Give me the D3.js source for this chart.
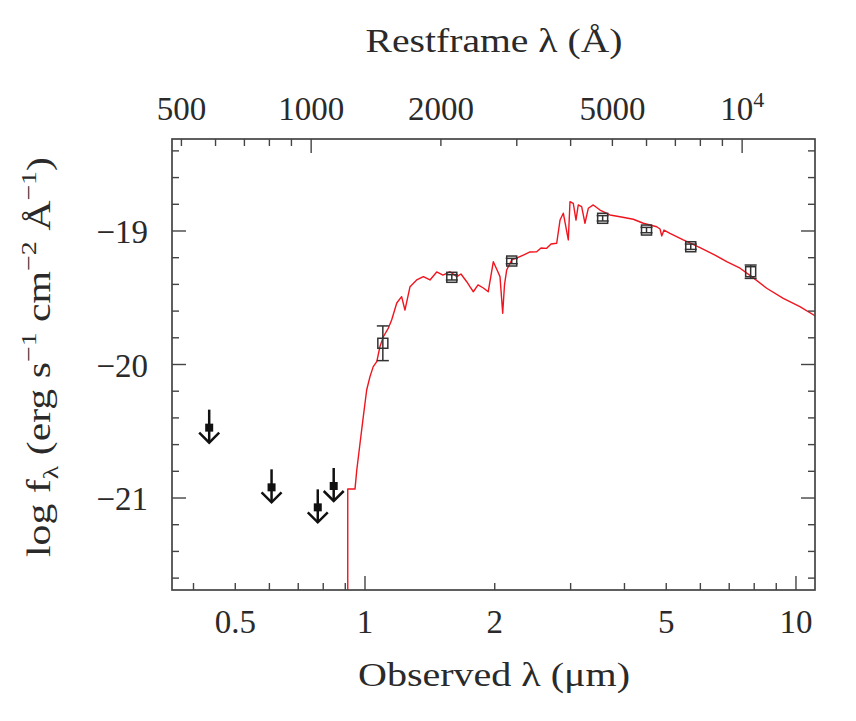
<!DOCTYPE html>
<html><head><meta charset="utf-8">
<script src="https://cdn.jsdelivr.net/npm/d3@7"></script>
<style>body{margin:0;background:#fff}svg{display:block}text{font-family:"Liberation Serif","Times New Roman",serif;fill:#2a2a2a}</style>
</head><body>
<svg id="c" width="856" height="721"></svg>
<script>
// ---- data ----
const redshift1p = 7.5; // observed micron = restframe Angstrom * 7.5 / 1e4
const xDomain = [0.3566, 11.07];
const yDomain = [-21.689, -18.311];

const bottomTicks = [0.4,0.5,0.6,0.7,0.8,0.9,1,2,3,4,5,6,7,8,9,10];
const bottomMajor = [1,10];
const bottomLabels = [0.5,1,2,5,10];
const topTicks = [500,600,700,800,900,1000,2000,3000,4000,5000,6000,7000,8000,9000,10000];
const topMajor = [1000,10000];
const topLabels = [500,1000,2000,5000,10000];
const yTicks = [-21.6,-21.4,-21.2,-21,-20.8,-20.6,-20.4,-20.2,-20,-19.8,-19.6,-19.4,-19.2,-19,-18.8,-18.6,-18.4];
const yMajor = [-21,-20,-19];

// model spectrum (observed micron, log f_lambda)
const specLam = [0.912,0.912,0.948,0.957,0.974,0.991,1.009,1.027,1.045,1.065,1.083,1.103,1.133,1.153,1.185,1.216,1.238,1.272,1.318,1.366,1.415,1.467,1.517,1.575,1.633,1.670,1.722,1.753,1.784,1.829,1.882,1.932,1.985,2.025,2.057,2.087,2.107,2.132,2.190,2.253,2.330,2.415,2.502,2.561,2.640,2.702,2.785,2.835,2.885,2.963,2.990,3.043,3.087,3.125,3.182,3.239,3.297,3.386,3.510,3.702,3.905,4.194,4.423,4.752,4.837,4.881,4.941,5.101,5.476,5.989,6.488,6.906,7.417,7.894,8.551,9.344,10.21,11.17];
const specFlux = [-22.5,-20.933,-20.933,-20.790,-20.588,-20.391,-20.191,-20.091,-20.016,-19.979,-19.867,-19.792,-19.727,-19.667,-19.539,-19.492,-19.592,-19.417,-19.367,-19.342,-19.367,-19.307,-19.330,-19.305,-19.342,-19.322,-19.380,-19.419,-19.455,-19.404,-19.427,-19.455,-19.230,-19.292,-19.342,-19.616,-19.404,-19.292,-19.217,-19.202,-19.180,-19.157,-19.155,-19.127,-19.130,-19.097,-19.092,-18.918,-18.867,-19.067,-18.781,-18.793,-18.918,-18.805,-18.818,-18.942,-18.830,-18.805,-18.843,-18.880,-18.893,-18.912,-18.942,-18.968,-18.985,-19.037,-18.993,-19.017,-19.067,-19.124,-19.180,-19.230,-19.279,-19.342,-19.429,-19.504,-19.567,-19.642];

// photometric detections
const detLam = [1.10,1.59,2.19,3.56,4.50,5.70,7.85];
const detFlux = [-19.841,-19.347,-19.225,-18.905,-18.993,-19.118,-19.305];
const detErr = [0.13,0.02,0.02,0.02,0.02,0.02,0.05];

// upper limits
const ulLam = [0.435,0.607,0.777,0.846];
const ulFlux = [-20.473,-20.92,-21.07,-20.91];

// ---- chart ----
const L=172,R=815,T=139,B=590;
const svg = d3.select("#c");
const x = d3.scaleLog().domain(xDomain).range([L,R]);
const xTop = d3.scaleLog().domain(xDomain.map(v=>v*1e4/redshift1p)).range([L,R]);
const y = d3.scaleLinear().domain(yDomain).range([B,T]);
const axisCol = "#444";

svg.append("clipPath").attr("id","clip").append("rect").attr("x",L).attr("y",T).attr("width",R-L).attr("height",B-T);

// spectrum
svg.append("path").datum(specLam.map((l,i)=>[l,specFlux[i]]))
  .attr("clip-path","url(#clip)")
  .attr("d",d3.line().x(d=>x(d[0])).y(d=>y(d[1])))
  .attr("fill","none").attr("stroke","#f0141e").attr("stroke-width",1.4).attr("stroke-linejoin","round");

// frame
svg.append("rect").attr("x",L).attr("y",T).attr("width",R-L).attr("height",B-T)
  .attr("fill","none").attr("stroke",axisCol).attr("stroke-width",1.7);

const g = svg.append("g").attr("stroke",axisCol).attr("stroke-width",1.4);
const maj=14, mn=7;
bottomTicks.forEach(t=>{const len=bottomMajor.includes(t)?maj:mn;
  g.append("line").attr("x1",x(t)).attr("x2",x(t)).attr("y1",B).attr("y2",B-len);});
topTicks.forEach(t=>{const len=topMajor.includes(t)?maj:mn;
  g.append("line").attr("x1",xTop(t)).attr("x2",xTop(t)).attr("y1",T).attr("y2",T+len);});
yTicks.forEach(t=>{const len=yMajor.some(m=>Math.abs(m-t)<1e-6)?maj:mn;
  g.append("line").attr("x1",L).attr("x2",L+len).attr("y1",y(t)).attr("y2",y(t));
  g.append("line").attr("x1",R).attr("x2",R-len).attr("y1",y(t)).attr("y2",y(t));});

const fs=33;
bottomLabels.forEach(t=>svg.append("text").attr("x",x(t)).attr("y",633).attr("text-anchor","middle").attr("font-size",fs).text(String(t)));
topLabels.forEach(t=>{
  const tx=svg.append("text").attr("x",xTop(t)).attr("y",120).attr("text-anchor","middle").attr("font-size",fs);
  if(t===10000){tx.append("tspan").text("10");tx.append("tspan").attr("dy",-13).attr("font-size",22).text("4");}
  else tx.text(String(t));
});
yMajor.forEach(t=>svg.append("text").attr("x",148).attr("y",y(t)+12).attr("text-anchor","end").attr("font-size",fs).text("\u2212"+Math.abs(t)));

// titles
svg.append("text").attr("x",494).attr("y",52).attr("text-anchor","middle").attr("font-size",fs)
  .attr("textLength",257).attr("lengthAdjust","spacingAndGlyphs").text("Restframe \u03bb (\u00c5)");
svg.append("text").attr("x",494).attr("y",686).attr("text-anchor","middle").attr("font-size",fs)
  .attr("textLength",272).attr("lengthAdjust","spacingAndGlyphs").text("Observed \u03bb (\u03bcm)");
const yt = svg.append("text").attr("transform","translate(50,357) rotate(-90)").attr("text-anchor","middle").attr("font-size",fs)
  .attr("textLength",400).attr("lengthAdjust","spacingAndGlyphs");
yt.append("tspan").text("log f");
yt.append("tspan").attr("dy",8).attr("font-size",22).text("\u03bb");
yt.append("tspan").attr("dy",-8).text(" (erg s");
yt.append("tspan").attr("dy",-14).attr("font-size",22).text("\u22121");
yt.append("tspan").attr("dy",14).text(" cm");
yt.append("tspan").attr("dy",-14).attr("font-size",22).text("\u22122");
yt.append("tspan").attr("dy",14).text(" \u00c5");
yt.append("tspan").attr("dy",-14).attr("font-size",22).text("\u22121");
yt.append("tspan").attr("dy",14).text(")");

// detections
const dg = svg.append("g").attr("stroke","#333").attr("fill","none").attr("stroke-width",1.5);
detLam.forEach((l,i)=>{
  const cx=x(l), cy=y(detFlux[i]), y1=y(detFlux[i]+detErr[i]), y2=y(detFlux[i]-detErr[i]);
  dg.append("line").attr("x1",cx).attr("x2",cx).attr("y1",y1).attr("y2",y2);
  dg.append("line").attr("x1",cx-6).attr("x2",cx+6).attr("y1",y1).attr("y2",y1);
  dg.append("line").attr("x1",cx-6).attr("x2",cx+6).attr("y1",y2).attr("y2",y2);
  dg.append("rect").attr("x",cx-5).attr("y",cy-5).attr("width",10).attr("height",10).attr("fill","none");
});

// upper limits
const ug = svg.append("g").attr("stroke","#111").attr("stroke-width",2.5).attr("fill","none");
ulLam.forEach((l,i)=>{
  const cx=x(l), cy=y(ulFlux[i]);
  ug.append("line").attr("x1",cx).attr("x2",cx).attr("y1",cy-18).attr("y2",cy+15);
  ug.append("path").attr("d",`M${cx-10},${cy+5}L${cx},${cy+15}L${cx+10},${cy+5}`);
  svg.append("rect").attr("x",cx-4).attr("y",cy-4).attr("width",8).attr("height",8).attr("fill","#111");
});
</script>
</body></html>
